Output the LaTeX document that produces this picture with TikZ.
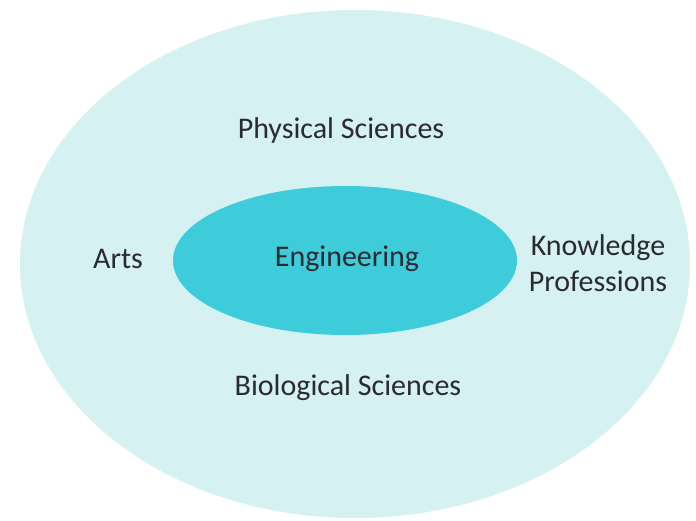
\documentclass[tikz,border=0pt]{standalone}
\usepackage{fontspec}
\setmainfont{Carlito}
\definecolor{outerfill}{HTML}{D5F1F2}
\definecolor{innerfill}{HTML}{3ECCDB}
\definecolor{txt}{HTML}{2A2A30}
\begin{document}
\begin{tikzpicture}[x=1pt,y=-1pt,
  lbl/.style={text=txt,font=\fontsize{30}{36}\selectfont,inner sep=0pt,align=center}]
\useasboundingbox (0,0) rectangle (696,521);
\fill[outerfill] (355,264) ellipse [x radius=335, y radius=254];
\fill[innerfill] (345,260.5) ellipse [x radius=172, y radius=74.5];
\node[lbl] (phys) at (341,131) {Physical Sciences};
\node[lbl] (arts) at (118,259) {Arts};
\node[lbl] (eng) at (347,259) {Engineering};
\node[lbl] (know) at (598,263) {Knowledge\\Professions};
\node[lbl] (bio) at (348,388) {Biological Sciences};
\end{tikzpicture}
\end{document}
